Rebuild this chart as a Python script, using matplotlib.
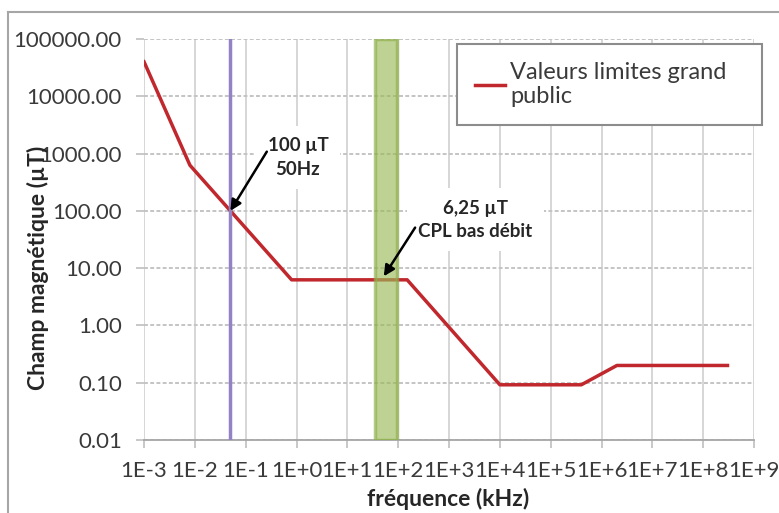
import matplotlib
matplotlib.use("Agg")
import matplotlib.pyplot as plt
from matplotlib.lines import Line2D
from matplotlib.ticker import FixedLocator, FixedFormatter, NullLocator

plt.rcParams['font.family'] = ['Lato', 'DejaVu Sans']

# ICNIRP limits, general public
freq_khz = [1e-3, 8e-3, 0.8, 150, 1e4, 4e5, 2e6, 3e8]
champ_ut = [40000, 625, 6.25, 6.25, 0.092, 0.092, 0.2, 0.2]

freq_50hz = 0.05
cpl_band = [35, 95]

xticks = [10.0 ** k for k in range(-3, 10)]
xtick_labels = ["1E-3", "1E-2", "1E-1"] + ["1E+%d" % k for k in range(0, 10)]
yticks = [0.01, 0.1, 1, 10, 100, 1000, 10000, 100000]
ytick_labels = ["0.01", "0.10", "1.00", "10.00", "100.00", "1000.00", "10000.00", "100000.00"]

fig = plt.figure(figsize=(7.79, 5.13), dpi=100)
ax = fig.add_axes([0.1849, 0.1423, 0.7831, 0.7817])

ax.set_xscale('log')
ax.set_yscale('log')
ax.set_xlim(xticks[0], xticks[-1])
ax.set_ylim(yticks[0], yticks[-1])

ax.xaxis.set_major_locator(FixedLocator(xticks))
ax.xaxis.set_major_formatter(FixedFormatter(xtick_labels))
ax.yaxis.set_major_locator(FixedLocator(yticks))
ax.yaxis.set_major_formatter(FixedFormatter(ytick_labels))
ax.xaxis.set_minor_locator(NullLocator())
ax.yaxis.set_minor_locator(NullLocator())

ax.tick_params(axis='both', labelsize=16, labelcolor='#3a3a3a', color='#bfbfbf',
               length=6, width=1.2)
ax.tick_params(axis='x', pad=9)
ax.tick_params(axis='y', pad=10)

ax.grid(axis='x', color='#d3d3d3', lw=1.3, ls='-', zorder=0)
ax.grid(axis='y', color='#c4c4c4', lw=1.4, ls=(0, (2, 1.2)), zorder=0)
ax.set_axisbelow(True)
for s in ['top', 'right', 'left']:
    ax.spines[s].set_visible(False)
ax.spines['bottom'].set_color('#a6a6a6')
ax.spines['bottom'].set_linewidth(1.3)

ax.plot(freq_khz, champ_ut, color='#c0282d', lw=2.5, zorder=3,
        label="Valeurs limites grand\npublic")
ax.axvline(freq_50hz, color='#9483c4', lw=2.5, zorder=3)
ax.axvspan(cpl_band[0], cpl_band[1], facecolor='#9bbb59', alpha=0.65,
           edgecolor='#8db04a', lw=2.5, zorder=4)

box = dict(boxstyle='square,pad=0.6', fc='white', ec='none')
ax.text(1.07, 850, "100 µT\n50Hz", ha='center', va='center', fontsize=13.5,
        fontweight='bold', color='#262626', bbox=box, zorder=2.5, linespacing=1.45)
ax.text(3300, 70, "6,25 µT\nCPL bas débit", ha='center', va='center', fontsize=13.5,
        fontweight='bold', color='#262626', bbox=box, zorder=2.5, linespacing=1.45)

arrow = dict(arrowstyle='-|>', color='black', lw=1.8, mutation_scale=16,
             shrinkA=0, shrinkB=0)
ax.annotate("", xy=(freq_50hz, 100), xytext=(0.26, 1080), arrowprops=arrow, zorder=5)
ax.annotate("", xy=(52, 7.2), xytext=(215, 51), arrowprops=arrow, zorder=5)

ax.set_xlabel("fréquence (kHz)", fontsize=16.5, fontweight='bold', color='#262626')
ax.xaxis.set_label_coords(0.498, -0.12)
ax.set_ylabel("Champ magnétique (µT)", fontsize=16.5, fontweight='bold', color='#262626')
ax.yaxis.set_label_coords(-0.155, 0.43)

leg = ax.legend(loc='upper left', bbox_to_anchor=(0.5866, 0.76, 0.3915, 0.154),
                bbox_transform=fig.transFigure, borderaxespad=0, mode='expand',
                fontsize=17, handlelength=1.3, handletextpad=0.2,
                borderpad=0.75, fancybox=False, framealpha=1,
                edgecolor='#8c8c8c')
leg.get_frame().set_linewidth(1.5)
for t in leg.get_texts():
    t.set_color('#3a3a3a')

# chart frame
fig.add_artist(Line2D([0.0103, 1.0], [0.9766, 0.9766], color='#a6a6a6', lw=1.5,
                      transform=fig.transFigure))
fig.add_artist(Line2D([0.0103, 0.0103], [0.0, 0.9766], color='#a6a6a6', lw=1.5,
                      transform=fig.transFigure))

fig.savefig("out.png", dpi=100)
